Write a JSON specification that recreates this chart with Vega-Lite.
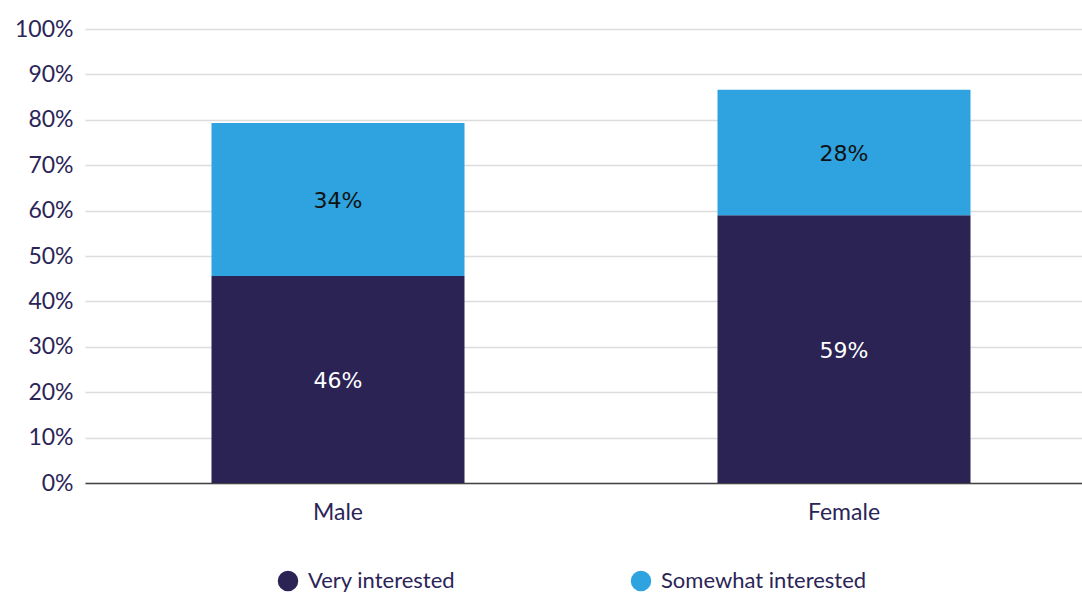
{
  "$schema": "https://vega.github.io/schema/vega-lite/v6.json",
  "width": 997,
  "height": 454,
  "autosize": {"type": "none"},
  "padding": {"left": 85, "top": 29, "right": 0, "bottom": 109},
  "background": "white",
  "config": {
    "view": {"stroke": null},
    "font": "Lato"
  },
  "data": {
    "values": [
      {"gender": "Male", "level": "Very interested", "rank": 1, "share": 0.456},
      {"gender": "Male", "level": "Somewhat interested", "rank": 2, "share": 0.337},
      {"gender": "Female", "level": "Very interested", "rank": 1, "share": 0.59},
      {"gender": "Female", "level": "Somewhat interested", "rank": 2, "share": 0.276}
    ]
  },
  "transform": [
    {"stack": "share", "groupby": ["gender"], "sort": [{"field": "rank", "order": "ascending"}], "as": ["y0", "y1"]},
    {"calculate": "(datum.y0 + datum.y1) / 2", "as": "mid"}
  ],
  "encoding": {
    "x": {
      "field": "gender",
      "type": "nominal",
      "sort": ["Male", "Female"],
      "title": null,
      "scale": {"paddingInner": 0.5, "paddingOuter": 0.25, "range": [0, 1012]},
      "axis": {
        "labelAngle": 0,
        "labelFont": "Lato",
        "labelFontSize": 23,
        "labelColor": "#2b2557",
        "labelPadding": 18,
        "ticks": false,
        "domainColor": "#444444",
        "domainWidth": 1.5,
        "grid": false
      }
    }
  },
  "layer": [
    {
      "mark": {"type": "bar"},
      "encoding": {
        "y": {
          "field": "y0",
          "type": "quantitative",
          "title": null,
          "scale": {"domain": [0, 1]},
          "axis": {
            "format": ".0%",
            "values": [0, 0.1, 0.2, 0.3, 0.4, 0.5, 0.6, 0.7, 0.8, 0.9, 1],
            "labelFont": "Lato",
            "labelFontSize": 23,
            "labelColor": "#2b2557",
            "labelPadding": 12,
            "ticks": false,
            "domain": false,
            "gridColor": "#dcdcdc",
            "gridWidth": 1.5
          }
        },
        "y2": {"field": "y1"},
        "color": {
          "field": "level",
          "type": "nominal",
          "scale": {
            "domain": ["Very interested", "Somewhat interested"],
            "range": ["#2a2353", "#2ea3df"]
          },
          "legend": {
            "title": null,
            "orient": "none",
            "direction": "horizontal",
            "legendX": 192,
            "legendY": 541,
            "symbolType": "circle",
            "symbolSize": 420,
            "symbolStrokeWidth": 0,
            "labelFont": "Lato",
            "labelFontSize": 22,
            "labelColor": "#2b2557",
            "labelOffset": 9,
            "columnPadding": 174,
            "labelLimit": 300
          }
        }
      }
    },
    {
      "mark": {"type": "text", "font": "DejaVu Sans", "fontSize": 22, "baseline": "middle", "align": "center", "dy": 2},
      "encoding": {
        "y": {"field": "mid", "type": "quantitative"},
        "text": {"field": "share", "type": "quantitative", "format": ".0%"},
        "color": {
          "condition": {"test": "datum.level === 'Very interested'", "value": "#ffffff"},
          "value": "#111111"
        }
      }
    }
  ]
}
